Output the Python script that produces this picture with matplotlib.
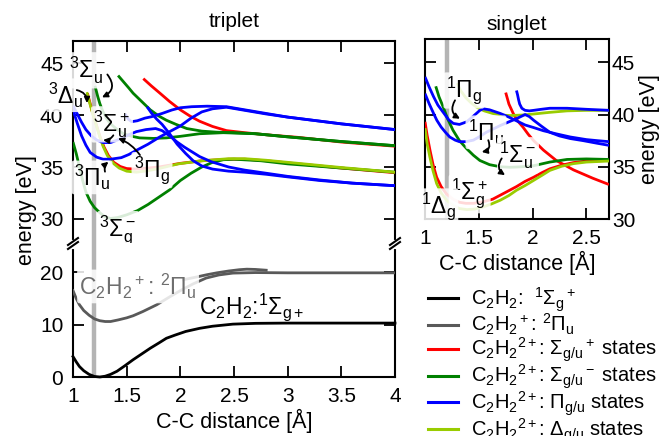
import matplotlib
matplotlib.use("Agg")
import matplotlib.pyplot as plt
from matplotlib.lines import Line2D
from matplotlib.ticker import FuncFormatter

plt.rcParams['font.family'] = ['Liberation Sans', 'DejaVu Sans']
plt.rcParams['mathtext.fontset'] = 'custom'
plt.rcParams['mathtext.rm'] = 'Liberation Sans'
plt.rcParams['mathtext.it'] = 'Liberation Sans'
plt.rcParams['mathtext.bf'] = 'Liberation Sans:bold'
plt.rcParams['mathtext.default'] = 'regular'
plt.rcParams['font.size'] = 15

# ---------------- colours ----------------
C_NEUTRAL = 'black'
C_CATION = '#595959'
C_SIGP = '#ff0000'
C_SIGM = '#008000'
C_PI = '#0000ff'
C_DELTA = '#99cc00'
C_EQ = '#b4b4b4'

R_EQ = 1.2  # equilibrium C-C distance of neutral C2H2

# ---------------- triplet dication states ----------------
trip_sgm_g_x = [1.00, 1.03, 1.06, 1.09, 1.12, 1.16, 1.20, 1.25, 1.30, 1.35, 1.42, 1.50, 1.60, 1.70,
                1.80, 1.90, 2.00, 2.10, 2.20, 2.30, 2.40, 2.50, 2.75, 3.00, 3.50, 4.00]
trip_sgm_g_y = [37.4, 36.3, 35.0, 33.7, 32.6, 31.7, 31.1, 30.6, 30.2, 30.05, 30.15, 30.4, 30.8, 31.4,
                32.1, 32.8, 33.7, 34.4, 35.0, 35.45, 35.7, 35.75, 35.6, 35.3, 34.9, 34.5]

trip_sgm_u_x = [1.205, 1.23, 1.25, 1.28, 1.31, 1.345, 1.40, 1.47, 1.55, 1.62, 1.75, 1.87, 2.00, 2.18,
                2.40, 2.70, 3.00, 3.50, 4.00]
trip_sgm_u_y = [42.8, 41.8, 41.1, 40.3, 39.7, 39.2, 38.7, 38.2, 37.95, 37.8, 37.75, 37.8, 37.95, 38.2,
                38.3, 38.2, 37.9, 37.45, 37.05]

trip_sgm_b_x = [1.42, 1.47, 1.52, 1.56, 1.64, 1.72, 1.80, 1.87, 1.96, 2.06, 2.20, 2.34, 2.50, 2.70,
                3.00, 3.50, 4.00]
trip_sgm_b_y = [43.8, 43.2, 42.6, 42.1, 41.3, 40.5, 39.9, 39.5, 39.1, 38.7, 38.45, 38.35, 38.3, 38.2,
                37.9, 37.45, 37.05]

trip_sgp_a_x = [1.655, 1.73, 1.81, 1.90, 2.00, 2.09, 2.18, 2.30, 2.43, 2.60, 2.80, 3.10, 3.50, 4.00]
trip_sgp_a_y = [43.5, 42.8, 42.1, 41.3, 40.5, 39.9, 39.4, 38.9, 38.5, 38.3, 38.1, 37.85, 37.4, 37.0]

trip_sgp_b_x = [1.134, 1.165, 1.195, 1.225, 1.255, 1.29, 1.33, 1.38, 1.44, 1.50, 1.58, 1.70, 1.80,
                2.00, 2.20, 2.45, 2.60, 2.80, 3.10, 3.50, 4.00]
trip_sgp_b_y = [42.1, 40.9, 39.8, 38.8, 37.8, 36.9, 36.1, 35.45, 35.05, 34.85, 34.8, 34.9, 35.0,
                35.35, 35.6, 35.75, 35.75, 35.6, 35.3, 34.9, 34.45]

trip_dlt_x = [1.128, 1.16, 1.19, 1.22, 1.25, 1.28, 1.32, 1.376, 1.43, 1.50, 1.59, 1.70, 1.80, 1.98,
              2.20, 2.45, 2.60, 2.80, 3.10, 3.50, 4.00]
trip_dlt_y = [42.2, 41.0, 39.9, 38.9, 37.9, 37.0, 36.1, 35.35, 34.9, 34.6, 34.5, 34.65, 34.85, 35.3,
              35.6, 35.8, 35.8, 35.65, 35.35, 34.95, 34.5]

trip_pi_a_x = [1.00, 1.04, 1.08, 1.12, 1.17, 1.22, 1.28, 1.35, 1.44, 1.52, 1.59, 1.68, 1.77, 1.83,
               1.90, 1.97, 2.04, 2.11, 2.18, 2.29, 2.45, 2.60, 2.80, 3.00, 3.30, 3.60, 4.00]
trip_pi_a_y = [40.9, 40.1, 39.3, 38.6, 38.0, 37.6, 37.35, 37.35, 37.7, 38.1, 38.4, 38.6, 38.7, 38.5,
               38.0, 37.4, 36.9, 36.45, 36.0, 35.5, 35.0, 34.7, 34.4, 34.1, 33.75, 33.45, 33.2]

trip_pi_b_x = [1.00, 1.04, 1.08, 1.12, 1.16, 1.22, 1.28, 1.35, 1.45, 1.52, 1.59, 1.70, 1.81, 1.90,
               2.00, 2.10, 2.20, 2.30, 2.43, 2.60, 2.80, 3.00, 3.50, 4.00]
trip_pi_b_y = [40.5, 39.2, 38.0, 37.1, 36.4, 35.95, 35.75, 35.75, 35.9, 36.2, 36.6, 37.2, 37.9, 38.4,
               38.95, 39.7, 40.3, 40.6, 40.75, 40.45, 40.1, 39.8, 39.15, 38.6]

trip_pi_c_x = [1.485, 1.515, 1.547, 1.60, 1.67, 1.733, 1.83, 1.92, 2.00, 2.106, 2.25, 2.43, 2.60,
               2.80, 3.00, 3.50, 4.00]
trip_pi_c_y = [40.1, 39.6, 39.36, 39.45, 39.7, 39.84, 40.15, 40.48, 40.7, 40.8, 40.85, 40.8, 40.5,
               40.15, 39.8, 39.15, 38.6]

trip_pi_d_x = [1.69, 1.73, 1.78, 1.83, 1.90, 1.97, 2.05, 2.12, 2.20, 2.30, 2.45, 2.60, 2.80, 3.00,
               3.30, 3.60, 4.00]
trip_pi_d_y = [40.8, 40.2, 39.6, 39.1, 38.2, 37.2, 36.3, 35.6, 35.1, 34.8, 34.6, 34.5, 34.3, 34.05,
               33.7, 33.45, 33.2]

# ---------------- neutral and cation ----------------
neutral_x = [1.00, 1.03, 1.06, 1.10, 1.15, 1.20, 1.25, 1.30, 1.35, 1.41, 1.48, 1.56, 1.64, 1.72,
             1.80, 1.87, 1.95, 2.05, 2.18, 2.30, 2.49, 2.70, 3.00, 3.50, 4.00]
neutral_y = [3.9, 2.9, 2.0, 1.2, 0.5, 0.1, 0.0, 0.15, 0.5, 1.1, 2.1, 3.3, 4.4, 5.5,
             6.5, 7.4, 8.0, 8.7, 9.3, 9.7, 10.1, 10.25, 10.3, 10.3, 10.3]

cation_x = [1.00, 1.03, 1.06, 1.10, 1.15, 1.20, 1.25, 1.30, 1.35, 1.42, 1.50, 1.56, 1.65, 1.78,
            1.90, 2.00, 2.12, 2.24, 2.36, 2.49, 2.70, 3.00, 3.50, 4.00]
cation_y = [16.5, 15.0, 13.8, 12.7, 11.8, 11.1, 10.75, 10.6, 10.6, 10.9, 11.3, 11.7, 12.5, 13.8,
            15.3, 16.5, 17.8, 18.9, 19.5, 19.85, 19.95, 19.9, 19.9, 19.9]

cation2_x = [2.03, 2.15, 2.25, 2.34, 2.45, 2.55, 2.62, 2.70, 2.80]
cation2_y = [18.6, 19.1, 19.55, 19.9, 20.25, 20.5, 20.6, 20.55, 20.4]

# ---------------- singlet dication states ----------------
sing_sgp_a_x = [1.00, 1.02, 1.046, 1.075, 1.108, 1.15, 1.20, 1.26, 1.32, 1.38, 1.45, 1.54, 1.63,
                1.74, 1.85, 1.93, 2.01, 2.09, 2.16, 2.27, 2.38, 2.50, 2.71]
sing_sgp_a_y = [39.3, 38.0, 36.6, 35.2, 34.0, 33.1, 32.4, 31.9, 31.6, 31.5, 31.5, 31.65, 31.9,
                32.5, 33.1, 33.6, 34.0, 34.45, 34.8, 35.15, 35.4, 35.55, 35.6]

sing_sgp_b_x = [1.75, 1.78, 1.82, 1.86, 1.91, 1.96, 2.01, 2.10, 2.22, 2.38, 2.56, 2.71]
sing_sgp_b_y = [42.1, 41.0, 40.1, 39.4, 38.8, 38.1, 37.5, 36.6, 35.6, 34.7, 33.9, 33.3]

sing_sgm_x = [1.10, 1.13, 1.17, 1.21, 1.26, 1.32, 1.39, 1.45, 1.51, 1.60, 1.70, 1.79, 1.90, 2.01,
              2.16, 2.32, 2.50, 2.71]
sing_sgm_y = [42.7, 41.7, 40.7, 39.6, 38.5, 37.5, 36.7, 36.1, 35.6, 35.2, 35.0, 34.95, 35.0, 35.1,
              35.45, 35.7, 35.75, 35.7]

sing_dlt_a_x = [1.00, 1.02, 1.046, 1.075, 1.108, 1.15, 1.20, 1.26, 1.32, 1.39, 1.46, 1.54, 1.62,
                1.70, 1.78, 1.85, 1.93, 2.01, 2.09, 2.16, 2.27, 2.38, 2.50, 2.71]
sing_dlt_a_y = [38.7, 37.2, 35.9, 34.6, 33.4, 32.5, 31.8, 31.3, 31.0, 30.9, 30.95, 31.15, 31.45,
                31.8, 32.25, 32.75, 33.2, 33.7, 34.2, 34.65, 35.05, 35.3, 35.45, 35.55]

sing_dlt_b_x = [1.30, 1.33, 1.38, 1.43, 1.48, 1.55, 1.63, 1.71, 1.79, 1.90, 2.01, 2.15, 2.32, 2.50, 2.71]
sing_dlt_b_y = [43.0, 42.3, 41.6, 41.1, 40.7, 40.35, 40.1, 39.95, 39.9, 39.95, 40.05, 40.2, 40.35, 40.4, 40.4]

sing_pi_a_x = [1.00, 1.04, 1.08, 1.12, 1.17, 1.22, 1.263, 1.32, 1.387, 1.45, 1.51, 1.54, 1.60, 1.70,
               1.78, 1.85, 1.93, 2.01, 2.10, 2.22, 2.35, 2.50, 2.60, 2.71]
sing_pi_a_y = [43.6, 42.6, 41.7, 40.9, 40.2, 39.5, 39.15, 39.05, 39.3, 39.85, 40.4, 40.55, 40.45, 40.1,
               39.75, 39.4, 39.0, 38.75, 38.45, 38.15, 37.85, 37.6, 37.5, 37.4]

sing_pi_b_x = [1.00, 1.04, 1.08, 1.11, 1.15, 1.19, 1.23, 1.28, 1.32, 1.38, 1.45, 1.51, 1.57, 1.63,
               1.70, 1.78, 1.85, 1.90, 1.93, 1.97, 2.01, 2.08, 2.16, 2.25, 2.35, 2.47, 2.60, 2.71]
sing_pi_b_y = [42.0, 41.0, 40.1, 39.45, 38.8, 38.3, 37.85, 37.55, 37.4, 37.4, 37.55, 37.9, 38.3, 38.6,
               38.95, 39.3, 39.6, 39.85, 40.0, 39.8, 39.45, 38.9, 38.3, 37.95, 37.7, 37.5, 37.25, 37.05]

sing_pi_c_x = [1.85, 1.86, 1.87, 1.88, 1.90, 1.93, 1.97, 2.01, 2.08, 2.16, 2.32, 2.50, 2.71]
sing_pi_c_y = [42.3, 41.9, 41.4, 41.0, 40.6, 40.4, 40.35, 40.4, 40.5, 40.6, 40.6, 40.5, 40.4]

# ---------------- legend ----------------
legend_labels = [
    r"C$_2$H$_2$:  $^1\Sigma_g{}^+$",
    r"C$_2$H$_2{}^+$: $^2\Pi_u$",
    r"C$_2$H$_2{}^{2+}$: $\Sigma_{g/u}{}^+$ states",
    r"C$_2$H$_2{}^{2+}$: $\Sigma_{g/u}{}^-$ states",
    r"C$_2$H$_2{}^{2+}$: $\Pi_{g/u}$ states",
    r"C$_2$H$_2{}^{2+}$: $\Delta_{g/u}$ states",
]
legend_colors = [C_NEUTRAL, C_CATION, C_SIGP, C_SIGM, C_PI, C_DELTA]

LW = 2.0
FS = 15
FS_STATE = 16.5
FS_LEG = 14.5

# ---------------- figure layout ----------------
W, H = 661, 436
fig = plt.figure(figsize=(W / 100, H / 100), dpi=100)


def frac_box(x0, y0, x1, y1):
    return [x0 / W, 1 - y1 / H, (x1 - x0) / W, (y1 - y0) / H]


ax_hi = fig.add_axes(frac_box(73, 41, 395, 243))
ax_lo = fig.add_axes(frac_box(73, 243, 395, 377), sharex=ax_hi)
ax_s = fig.add_axes(frac_box(425, 39.3, 609, 219))

fmt = FuncFormatter(lambda v, p: '%g' % v)

for ax in (ax_hi, ax_lo, ax_s):
    for sp in ax.spines.values():
        sp.set_linewidth(1.5)
    ax.tick_params(which='both', direction='in', length=8, width=1.3,
                   top=True, right=True, labelsize=FS, pad=7)

# triplet panel, upper part
ax_hi.set_xlim(1, 4)
ax_hi.set_ylim(27.69, 47.12)
ax_hi.set_yticks([30, 35, 40, 45])
ax_hi.set_xticks([1, 1.5, 2, 2.5, 3, 3.5, 4])
ax_hi.spines['bottom'].set_visible(False)
ax_hi.tick_params(axis='x', bottom=False, labelbottom=False)
ax_hi.set_title('triplet', fontsize=FS, pad=10)

# triplet panel, lower part
ax_lo.set_ylim(0, 25.6)
ax_lo.set_yticks([0, 10, 20])
ax_lo.spines['top'].set_visible(False)
ax_lo.tick_params(axis='x', top=False)
ax_lo.xaxis.set_major_formatter(fmt)
ax_lo.set_xlabel('C-C distance [Å]', fontsize=FS + 0.5, labelpad=2)

# singlet panel
ax_s.set_xlim(1, 2.71)
ax_s.set_ylim(30, 47.2)
ax_s.set_xticks([1, 1.5, 2, 2.5])
ax_s.set_yticks([30, 35, 40, 45])
ax_s.xaxis.set_major_formatter(fmt)
ax_s.yaxis.tick_right()
ax_s.tick_params(axis='y', left=True, right=True, labelleft=False, labelright=True, pad=2)
ax_s.yaxis.set_label_position('right')
ax_s.set_ylabel('energy [eV]', fontsize=FS + 0.5, labelpad=3)
ax_s.set_xlabel('C-C distance [Å]', fontsize=FS + 0.5, labelpad=2)
ax_s.set_title('singlet', fontsize=FS, pad=7)

fig.text(27 / W, 1 - 210 / H, 'energy [eV]', rotation=90, ha='center', va='center', fontsize=FS + 0.5)

# equilibrium marker
for ax in (ax_hi, ax_lo, ax_s):
    ax.axvline(R_EQ, color=C_EQ, lw=3.2, zorder=1)

# ---------------- curves ----------------
ax_lo.plot(neutral_x, neutral_y, color=C_NEUTRAL, lw=LW, zorder=3, clip_on=False)
ax_lo.plot(cation_x, cation_y, color=C_CATION, lw=LW, zorder=3)
ax_lo.plot(cation2_x, cation2_y, color=C_CATION, lw=LW, zorder=3)

for xs, ys, c in [
    (trip_sgp_a_x, trip_sgp_a_y, C_SIGP),
    (trip_sgp_b_x, trip_sgp_b_y, C_SIGP),
    (trip_sgm_g_x, trip_sgm_g_y, C_SIGM),
    (trip_sgm_u_x, trip_sgm_u_y, C_SIGM),
    (trip_sgm_b_x, trip_sgm_b_y, C_SIGM),
    (trip_dlt_x, trip_dlt_y, C_DELTA),
    (trip_pi_a_x, trip_pi_a_y, C_PI),
    (trip_pi_b_x, trip_pi_b_y, C_PI),
    (trip_pi_c_x, trip_pi_c_y, C_PI),
    (trip_pi_d_x, trip_pi_d_y, C_PI),
]:
    ax_hi.plot(xs, ys, color=c, lw=LW, zorder=3, solid_capstyle='butt')

for xs, ys, c in [
    (sing_sgp_a_x, sing_sgp_a_y, C_SIGP),
    (sing_sgp_b_x, sing_sgp_b_y, C_SIGP),
    (sing_sgm_x, sing_sgm_y, C_SIGM),
    (sing_dlt_a_x, sing_dlt_a_y, C_DELTA),
    (sing_dlt_b_x, sing_dlt_b_y, C_DELTA),
    (sing_pi_a_x, sing_pi_a_y, C_PI),
    (sing_pi_b_x, sing_pi_b_y, C_PI),
    (sing_pi_c_x, sing_pi_c_y, C_PI),
]:
    ax_s.plot(xs, ys, color=c, lw=LW, zorder=3, solid_capstyle='butt')

# ---------------- state labels ----------------
lab_box = dict(boxstyle='round,pad=0.1', fc='white', ec='none', alpha=0.85)


def state_label(ax, txt, xy, color='black', ha='center', fs=FS_STATE):
    ax.text(xy[0], xy[1], txt, ha=ha, va='center', fontsize=fs, color=color,
            bbox=lab_box, zorder=6, clip_on=False)


def curl(ax, tail, head, rad):
    ax.annotate('', xy=head, xytext=tail, zorder=7, annotation_clip=False,
                arrowprops=dict(arrowstyle='-|>', connectionstyle='arc3,rad=%g' % rad,
                                color='black', lw=1.3, mutation_scale=8,
                                shrinkA=0, shrinkB=0))


state_label(ax_hi, r'$^3\Sigma_u^-$', (1.135, 44.3))
curl(ax_hi, (1.32, 43.9), (1.27, 41.7), -0.6)
state_label(ax_hi, r'$^3\Delta_u$', (0.935, 41.9))
curl(ax_hi, (1.035, 42.4), (1.13, 41.15), -0.4)
state_label(ax_hi, r'$^3\Sigma_u^+$', (1.363, 39.1))
curl(ax_hi, (1.376, 38.05), (1.28, 37.6), -0.3)
state_label(ax_hi, r'$^3\Pi_g$', (1.736, 34.7))
curl(ax_hi, (1.624, 36.15), (1.42, 37.76), 0.15)
state_label(ax_hi, r'$^3\Pi_u$', (1.177, 34.0))
curl(ax_hi, (1.298, 34.55), (1.33, 35.5), -0.3)
state_label(ax_hi, r'$^3\Sigma_g^-$', (1.42, 28.9))

state_label(ax_lo, r'C$_2$H$_2{}^+$: $^2\Pi_u$', (1.06, 17.3), color='#6e6e6e', ha='left')
ax_lo.text(2.668, 13.25, r'C$_2$H$_2$:$^1\Sigma_{g+}$', ha='center', va='center', fontsize=FS_STATE, zorder=6)

state_label(ax_s, r'$^1\Pi_g$', (1.362, 42.3))
curl(ax_s, (1.279, 41.36), (1.325, 39.6), 0.5)
state_label(ax_s, r'$^1\Pi_u$', (1.567, 38.3))
curl(ax_s, (1.588, 37.54), (1.527, 36.42), -0.6)
state_label(ax_s, r'$^1\Sigma_u^-$', (1.864, 36.1))
curl(ax_s, (1.713, 35.8), (1.744, 34.2), 0.5)
state_label(ax_s, r'$^1\Sigma_g^+$', (1.415, 32.4))
state_label(ax_s, r'$^1\Delta_g$', (1.125, 31.2))

# ---------------- axis break marks ----------------
for xpix in (73, 395):
    gap = Line2D([xpix / W, xpix / W], [1 - 241.5 / H, 1 - 246.5 / H], transform=fig.transFigure,
                 color='white', lw=3, zorder=10)
    fig.add_artist(gap)
    for dy in (0, 4):
        mark = Line2D([(xpix - 5) / W, (xpix + 5) / W],
                      [1 - (247 + dy - 2) / H, 1 - (240 + dy - 2) / H],
                      transform=fig.transFigure, color='black', lw=1.5, zorder=11)
        fig.add_artist(mark)

# ---------------- legend ----------------
handles = [Line2D([0], [0], color=c, lw=2.2) for c in legend_colors]
fig.legend(handles, legend_labels, loc='upper left', bbox_to_anchor=(428 / W, 1 - 285.5 / H),
           frameon=False, fontsize=FS_LEG, handlelength=1.5, handletextpad=0.62,
           labelspacing=-0.08, borderpad=0, borderaxespad=0)

fig.savefig('out.png', dpi=100)
